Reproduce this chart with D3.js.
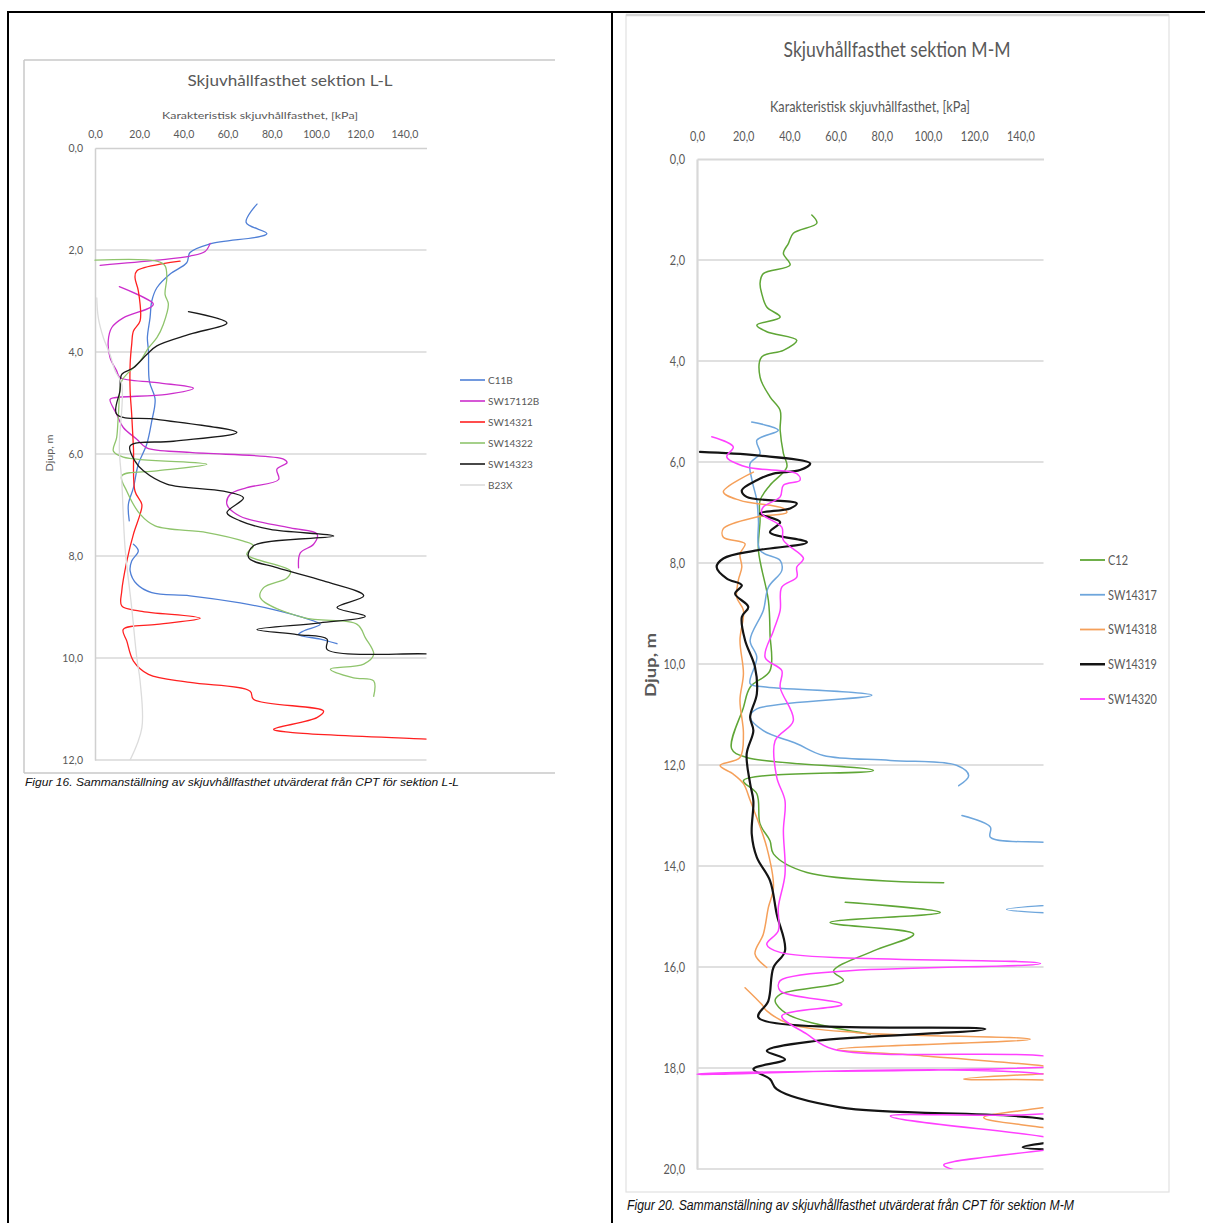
<!DOCTYPE html>
<html>
<head>
<meta charset="utf-8">
<script src="https://cdn.jsdelivr.net/npm/d3@7"></script>
<style>
  body { margin: 0; background: #fff; }
  svg { display: block; }
</style>
</head>
<body>
<svg id="page" width="1205" height="1223"></svg>
<script>
// ---------- shared axis ticks ----------
const kpaTicks = [0, 20, 40, 60, 80, 100, 120, 140];
const depthTicksLL = [0, 2, 4, 6, 8, 10, 12];
const depthTicksMM = [0, 2, 4, 6, 8, 10, 12, 14, 16, 18, 20];

// ---------- section L-L : [kPa, depth m], null = break in the sounding ----------
const namesLL = ["C11B", "SW17112B", "SW14321", "SW14322", "SW14323", "B23X"];
const c11b = [[73.3,1.10],[68.4,1.46],[77.8,1.68],[52.1,1.88],[43.0,2.05],[41.5,2.25],[34.0,2.47],[28.0,2.74],[25.7,3.0],[24.9,3.33],[23.7,3.72],[24.2,3.98],[24.6,4.57],[27.2,4.93],[25.7,5.35],[23.4,5.81],[19.6,6.20],[17.4,6.66],[15.1,6.99],[15.5,7.31],null,[17.4,7.77],[19.6,7.90],[16.6,8.10],[15.9,8.29],[18.9,8.55],[25.7,8.72],[43.0,8.78],[65.7,8.92],[80.8,9.05],[94.4,9.21],[101.9,9.34],[94.4,9.47],[92.1,9.54],[101.9,9.63],[109.5,9.72]];
const sw17112b = [[52.1,1.87],[49.8,2.03],[43.0,2.12],[28.0,2.20],[2.3,2.30],null,[11.0,2.72],[26.4,3.06],[24.9,3.13],[12.8,3.33],[7.6,3.52],[6.0,3.78],[6.8,4.11],[9.8,4.37],[11.3,4.50],[28.0,4.60],[44.5,4.71],[32.5,4.83],[8.3,4.90],[6.8,4.93],[9.8,5.22],[12.8,5.48],[18.9,5.71],[23.4,5.88],[43.0,5.97],[85.3,6.10],[86.9,6.17],[82.3,6.30],[83.1,6.50],[68.7,6.66],[61.2,6.79],[59.7,6.99],[65.7,7.22],[88.4,7.45],[100.5,7.57],[98.9,7.77],[92.9,7.94],[92.1,8.23]];
const sw14321 = [[38.5,2.22],[18.9,2.41],[18.1,2.54],[19.6,2.80],[20.4,3.39],[17.4,3.59],[16.6,3.85],[15.9,4.24],[15.9,4.76],[16.6,5.22],[17.4,5.88],[18.1,6.73],[21.2,6.99],[20.4,7.18],[17.4,7.57],[14.4,8.10],[12.1,8.69],[12.1,8.98],[20.4,9.08],[47.6,9.22],[28.0,9.34],[12.8,9.44],[14.4,9.67],[17.4,10.06],[24.2,10.32],[43.0,10.48],[70.2,10.65],[71.7,10.81],[103.4,11.04],[100.4,11.17],[80.8,11.40],[88.4,11.46],[150.3,11.59],[165,11.62]];
const sw14322 = [[0,2.20],[28.0,2.22],[31.7,2.31],[32.5,2.54],[31.7,2.87],[33.2,3.06],[30.9,3.46],[28.0,3.72],[24.2,3.92],[20.4,4.18],[15.9,4.37],[12.1,4.57],[10.6,5.22],[9.8,5.68],[8.3,5.94],[12.8,6.06],[50.6,6.20],[28.0,6.33],[12.1,6.43],[14.4,6.73],[20.4,7.18],[27.2,7.41],[50.6,7.54],[67.2,7.71],[71.7,7.80],[68.7,7.97],[88.4,8.29],[86.9,8.43],[76.3,8.62],[74.8,8.82],[94.4,9.21],[118.6,9.34],[122.3,9.60],[126.1,9.93],[121.6,10.12],[106.5,10.22],[117.0,10.39],[126.1,10.45],[126.1,10.75]];
const sw14323 = [[42.3,3.21],[59.7,3.43],[43.0,3.65],[28.0,3.88],[23.4,4.05],[17.4,4.31],[12.1,4.44],[11.3,4.76],[9.8,5.22],[28.0,5.32],[64.2,5.58],[35.5,5.75],[15.9,5.84],[18.1,6.14],[21.9,6.33],[32.5,6.59],[58.1,6.73],[67.2,6.86],[59.7,7.15],[65.7,7.31],[79.3,7.48],[108.0,7.61],[71.7,7.80],[69.5,8.03],[82.3,8.23],[103.4,8.49],[121.6,8.78],[109.5,9.01],[122.3,9.18],[101.9,9.31],[73.3,9.44],[91.4,9.54],[105.0,9.63],[105.0,9.83],[150.3,9.92],[165,9.95]];
const b23x = [[0.8,2.94],[1.5,3.33],[3.8,3.72],[6.8,4.05],[9.1,4.37],[12.1,4.63],[11.0,5.88],[12.1,6.53],[13.6,7.84],[16.6,9.01],[18.9,9.99],[20.4,10.45],[21.2,11.37],[15.9,12.0]];

// ---------- section M-M ----------
const namesMM = ["C12", "SW14317", "SW14318", "SW14319", "SW14320"];
const c12 = [[49.7,1.11],[51.9,1.27],[41.7,1.47],[39.6,1.67],[37.4,1.87],[40.3,2.10],[28.7,2.27],[27.3,2.46],[28.0,2.66],[30.2,2.93],[36.0,3.13],[25.9,3.29],[30.2,3.42],[43.2,3.59],[37.4,3.79],[28.0,3.92],[27.3,4.32],[31.6,4.71],[36.0,4.98],[36.0,5.37],[37.4,5.83],[38.9,6.10],[31.6,6.46],[27.3,6.76],[27.3,7.16],[26.6,7.75],[30.9,8.74],[31.6,9.40],[31.6,10.13],[23.0,10.46],[20.1,10.86],[15.0,11.68],[21.5,11.85],[76.4,12.11],[20.1,12.31],[25.9,12.57],[27.3,13.17],[31.6,13.50],[33.1,13.76],[47.6,14.13],[106.8,14.33],null,[64.2,14.72],[105.3,14.92],[57.6,15.12],[93.8,15.35],[76.4,15.68],[59.1,16.08],[63.4,16.27],[36.0,16.54],[33.8,16.67],[38.9,16.93],[51.9,17.13],[75.0,17.33]];
const sw14317 = [[23.7,5.21],[35.2,5.37],[25.9,5.57],[27.3,5.83],[23.0,6.03],[23.8,6.36],[25.9,6.76],[26.6,7.16],[27.3,7.75],[36.0,7.95],[36.7,8.15],[30.9,8.48],[28.7,8.94],[23.0,9.53],[25.9,9.87],[23.0,10.39],[28.7,10.45],[75.7,10.62],[25.9,10.89],[23.0,11.05],[28.7,11.32],[43.2,11.58],[54.7,11.81],[83.7,11.91],[112.6,12.01],[117.6,12.21],[113.3,12.41],null,[114.7,13.00],[127.0,13.23],[127.0,13.43],[150.1,13.53],[165,13.56],null,[165,14.74],[134,14.86],[165,14.96]];
const sw14318 = [[24.4,6.20],[11.4,6.59],[18.6,6.76],[37.4,6.92],[38.9,7.00],[25.9,7.09],[11.4,7.32],[11.4,7.49],[20.8,7.62],[18.6,7.82],[19.4,8.08],[17.9,8.34],[17.2,8.68],[20.1,8.94],[18.6,9.53],[20.1,10.19],[18.6,10.72],[20.1,11.38],[18.6,11.85],[10.0,12.01],[15.7,12.18],[20.1,12.37],[23.0,12.70],[30.2,13.63],[33.1,14.42],[30.9,14.82],[28.7,15.35],[25.1,15.74],[30.2,16.01],null,[20.8,16.41],[28.0,16.74],[30.2,16.87],[40.3,17.13],[69.2,17.30],[144.3,17.43],[60.6,17.63],[98.1,17.76],[150.1,17.96],[165,18.05],[115.4,18.22],[165,18.35],[165,18.6],[124.1,18.98],[150,19.18],[165,19.3]];
const sw14319 = [[1.3,5.80],[25.9,5.87],[49.0,6.03],[44.6,6.16],[33.1,6.23],[25.9,6.36],[19.4,6.56],[21.5,6.69],[43.2,6.82],[40.3,6.92],[27.3,7.02],[36.0,7.19],[31.6,7.39],[47.6,7.59],[25.9,7.75],[11.4,7.91],[8.5,8.08],[12.9,8.31],[19.4,8.44],[16.5,8.61],[22.2,8.87],[19.4,9.07],[20.8,9.53],[25.1,10.06],[25.9,10.59],[23.0,11.05],[24.4,11.32],[21.5,11.78],[23.0,12.37],[24.4,12.71],[23.7,13.37],[25.9,13.83],[31.6,14.29],[34.5,14.95],[38.1,15.68],[33.1,16.01],[30.9,16.67],[26.6,17.00],[124.8,17.23],[51.9,17.46],[30.2,17.66],[38.1,17.83],[24.4,18.02],[31.6,18.22],[34.5,18.42],[62.0,18.78],[150.1,19.01],[170,19.3],[141,19.57],[165,19.62]];
const sw14320 = [[6.4,5.50],[15.7,5.70],[12.9,5.90],[21.5,6.10],[43.2,6.23],[44.6,6.36],[37.4,6.46],[36.0,6.69],[28.7,6.89],[28.0,7.02],[36.7,7.29],[37.4,7.55],[46.1,7.91],[43.2,8.08],[43.2,8.28],[36.7,8.48],[36.0,8.94],[33.1,9.34],[29.5,9.87],[36.7,10.13],[36.0,10.46],[41.7,11.12],[33.8,11.52],[34.5,12.24],[38.1,12.71],[37.4,13.30],[38.1,14.16],[35.2,14.82],[35.2,15.28],[30.2,15.55],[36.0,15.71],[148.7,15.93],[36.0,16.27],[36.0,16.47],[62.7,16.74],[36.7,16.97],[47.6,17.33],[59.1,17.63],[150.1,17.76],[165,17.92],[0,18.12],[165,18.30],[165,18.75],[83.7,18.95],[148.7,19.35],[165,19.5],[106.8,19.92],[114,20.05]];

// ---------- helpers ----------
const svg = d3.select("#page");
const fmt = v => d3.format(".1f")(v).replace(".", ",");
const TXT = "#595959";

// squeeze a text element horizontally by a factor of its natural width
function squeeze(sel, factor) {
  sel.each(function () {
    const w = this.getComputedTextLength();
    d3.select(this).attr("textLength", w * factor).attr("lengthAdjust", "spacingAndGlyphs");
  });
}
function fitTo(sel, width) {
  sel.attr("textLength", width).attr("lengthAdjust", "spacingAndGlyphs");
}

// ---------- page frame ----------
const frame = svg.append("g").attr("stroke", "#000").attr("stroke-width", 2);
frame.append("line").attr("x1", 7).attr("x2", 1205).attr("y1", 12).attr("y2", 12);
frame.append("line").attr("x1", 8).attr("x2", 8).attr("y1", 12).attr("y2", 1223);
frame.append("line").attr("x1", 612).attr("x2", 612).attr("y1", 12).attr("y2", 1223);

// ---------- one depth profile chart ----------
function drawPanel(cfg) {
  const g = svg.append("g");
  const x = d3.scaleLinear().domain([0, 150]).range([cfg.left, cfg.right]);
  const y = d3.scaleLinear().domain([0, cfg.maxDepth]).range([cfg.top, cfg.bottom]);

  // horizontal gridlines
  g.append("g").selectAll("line").data(cfg.depthTicks.slice(1)).join("line")
    .attr("x1", cfg.left).attr("x2", cfg.right)
    .attr("y1", d => y(d)).attr("y2", d => y(d))
    .attr("stroke", cfg.gridColor).attr("stroke-width", cfg.gridWidth);

  // top value axis
  const xa = g.append("g").attr("transform", `translate(0,${cfg.top})`)
    .call(d3.axisTop(x).tickValues(kpaTicks).tickFormat(fmt).tickSize(0).tickSizeOuter(0).tickPadding(cfg.xPad));
  xa.select(".domain").attr("stroke", cfg.axisColor).attr("stroke-width", cfg.gridWidth);
  xa.selectAll("text").attr("fill", TXT).attr("font-family", cfg.font).attr("font-size", cfg.tickSize);

  // left depth axis
  const ya = g.append("g").attr("transform", `translate(${cfg.left},0)`)
    .call(d3.axisLeft(y).tickValues(cfg.depthTicks).tickFormat(fmt).tickSize(0).tickSizeOuter(0).tickPadding(cfg.yPad));
  ya.select(".domain").attr("stroke", cfg.axisColor).attr("stroke-width", cfg.gridWidth);
  ya.selectAll("text").attr("fill", TXT).attr("font-family", cfg.font).attr("font-size", cfg.tickSize);

  if (cfg.squeeze) { squeeze(xa.selectAll("text"), cfg.squeeze); squeeze(ya.selectAll("text"), cfg.squeeze); }

  // soundings
  const clipId = "clip-" + cfg.id;
  svg.append("defs").append("clipPath").attr("id", clipId).append("rect")
    .attr("x", cfg.left - 1).attr("y", cfg.top).attr("width", cfg.right - cfg.left + 1).attr("height", cfg.bottom - cfg.top);
  const line = d3.line().defined(d => d !== null)
    .x(d => x(d[0])).y(d => y(d[1])).curve(d3.curveCatmullRom.alpha(0.5));
  const lines = g.append("g").attr("clip-path", `url(#${clipId})`);
  cfg.series.forEach((s, i) => {
    lines.append("path").attr("d", line(s))
      .attr("fill", "none").attr("stroke", cfg.colors[i]).attr("stroke-width", cfg.widths[i])
      .attr("stroke-linejoin", "round").attr("stroke-linecap", "round");
  });

  // titles
  const title = g.append("text").attr("x", cfg.titleX).attr("y", cfg.titleY).attr("text-anchor", "middle")
    .attr("font-family", cfg.font).attr("font-size", cfg.titleSize).attr("fill", TXT).text(cfg.title);
  fitTo(title, cfg.titleW);
  const xt = g.append("text").attr("x", cfg.xTitleX).attr("y", cfg.xTitleY).attr("text-anchor", "middle")
    .attr("font-family", cfg.font).attr("font-size", cfg.xTitleSize).attr("fill", TXT)
    .text("Karakteristisk skjuvhållfasthet, [kPa]");
  fitTo(xt, cfg.xTitleW);
  const yt = g.append("text").attr("transform", `translate(${cfg.yTitleX},${cfg.yTitleY}) rotate(-90)`)
    .attr("text-anchor", "middle").attr("font-family", cfg.font).attr("font-size", cfg.yTitleSize)
    .attr("font-weight", cfg.yTitleWeight).attr("fill", TXT).text("Djup, m");
  fitTo(yt, cfg.yTitleW);

  // legend
  const lg = g.append("g");
  cfg.names.forEach((n, i) => {
    const ly = cfg.legendY + i * cfg.legendStep;
    lg.append("line").attr("x1", cfg.legendX).attr("x2", cfg.legendX + 25).attr("y1", ly).attr("y2", ly)
      .attr("stroke", cfg.colors[i]).attr("stroke-width", cfg.widths[i] + 0.3);
    const t = lg.append("text").attr("x", cfg.legendX + 28).attr("y", ly).attr("dy", "0.35em")
      .attr("font-family", cfg.font).attr("font-size", cfg.legendSize).attr("fill", TXT).text(n);
    if (cfg.squeeze) squeeze(t, cfg.squeeze);
  });

  // caption
  const cap = svg.append("text").attr("x", cfg.capX).attr("y", cfg.capY)
    .attr("font-family", "Liberation Sans, Arial, sans-serif").attr("font-style", "italic")
    .attr("font-size", cfg.capSize).attr("fill", "#111").text(cfg.caption);
  fitTo(cap, cfg.capW);
}

// ---------- section L-L chart box ----------
const boxL = svg.append("g").attr("stroke", "#c8c8c8").attr("stroke-width", 1.5).attr("fill", "none");
boxL.append("line").attr("x1", 24).attr("x2", 555).attr("y1", 60).attr("y2", 60);
boxL.append("line").attr("x1", 24).attr("x2", 24).attr("y1", 60).attr("y2", 773);
boxL.append("line").attr("x1", 24).attr("x2", 555).attr("y1", 773).attr("y2", 773);

drawPanel({
  id: "ll", left: 95, right: 426.5, top: 148, bottom: 760, maxDepth: 12,
  depthTicks: depthTicksLL, font: "Lato, 'Open Sans', sans-serif",
  gridColor: "#d9d9d9", axisColor: "#d0d0d0", gridWidth: 1.5,
  tickSize: 10.5, xPad: 10, yPad: 12, squeeze: null,
  series: [c11b, sw17112b, sw14321, sw14322, sw14323, b23x],
  names: namesLL,
  colors: ["#4f7fd6", "#cc2ecc", "#ff2020", "#8fc46c", "#1a1a1a", "#dcdcdc"],
  widths: [1.3, 1.3, 1.3, 1.3, 1.3, 1.3],
  title: "Skjuvhållfasthet sektion L-L", titleX: 290, titleY: 86, titleSize: 15, titleW: 205,
  xTitleX: 260, xTitleY: 119, xTitleSize: 10, xTitleW: 196,
  yTitleX: 53, yTitleY: 453, yTitleSize: 10, yTitleW: 37, yTitleWeight: "normal",
  legendX: 460, legendY: 380, legendStep: 21, legendSize: 10,
  caption: "Figur 16. Sammanställning av skjuvhållfasthet utvärderat från CPT för sektion L-L",
  capX: 25, capY: 786, capSize: 10, capW: 434
});

// ---------- section M-M chart box ----------
svg.append("rect").attr("x", 626).attr("y", 15).attr("width", 543).attr("height", 1177)
  .attr("fill", "none").attr("stroke", "#e2e2e2").attr("stroke-width", 1.2);
svg.append("line").attr("x1", 626).attr("x2", 1169).attr("y1", 15).attr("y2", 15)
  .attr("stroke", "#d6d6d6").attr("stroke-width", 2.5);

drawPanel({
  id: "mm", left: 697, right: 1043.5, top: 159, bottom: 1169, maxDepth: 20,
  depthTicks: depthTicksMM, font: "Lato, 'Open Sans', sans-serif",
  gridColor: "#e0e0e0", axisColor: "#d8d8d8", gridWidth: 2.2,
  tickSize: 14, xPad: 18, yPad: 12, squeeze: 0.78,
  series: [c12, sw14317, sw14318, sw14319, sw14320],
  names: namesMM,
  colors: ["#5fa636", "#6ea6dc", "#f5a05a", "#141414", "#ff40ff"],
  widths: [1.5, 1.5, 1.5, 2.2, 1.5],
  title: "Skjuvhållfasthet sektion M-M", titleX: 897, titleY: 57, titleSize: 22, titleW: 227,
  xTitleX: 870, xTitleY: 112, xTitleSize: 15, xTitleW: 200,
  yTitleX: 656, yTitleY: 665, yTitleSize: 15, yTitleW: 64, yTitleWeight: "bold",
  legendX: 1080, legendY: 560, legendStep: 34.75, legendSize: 14,
  caption: "Figur 20. Sammanställning av skjuvhållfasthet utvärderat från CPT för sektion M-M",
  capX: 627, capY: 1210, capSize: 14, capW: 447
});
</script>
</body>
</html>
